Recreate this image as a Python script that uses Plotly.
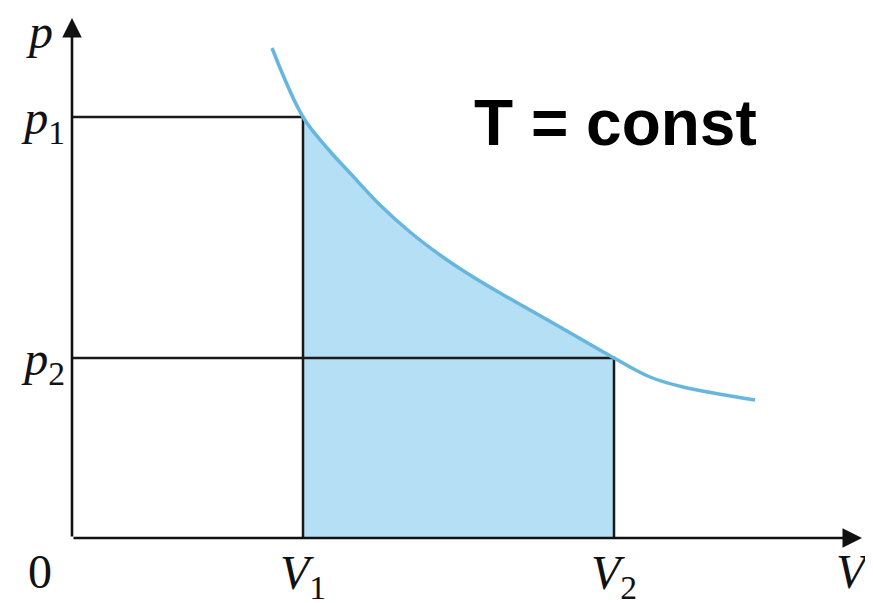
import plotly.graph_objects as go

# values (V and p in arbitrary units)
V1, V2 = 2.31, 5.42
p1, p2 = 4.21, 1.80
curve_V = [2.00, 2.31, 2.56, 2.78, 3.08, 3.38, 3.68, 3.98, 4.28, 4.58, 4.88, 5.42, 5.78, 6.11, 6.83]
curve_p = [4.90, 4.21, 3.89, 3.65, 3.33, 3.06, 2.83, 2.63, 2.45, 2.28, 2.11, 1.80, 1.61, 1.51, 1.38]
x_ticklabels = ["<i>V</i><sub>1</sub>", "<i>V</i><sub>2</sub>"]
y_ticklabels = ["<i>p</i><sub>1</sub>", "<i>p</i><sub>2</sub>"]
title_text = "T = const"

V_max, p_max = 7.90, 5.20

fill_V = [v for v in curve_V if V1 <= v <= V2]
fill_p = [p for v, p in zip(curve_V, curve_p) if V1 <= v <= V2]

serif = "Liberation Serif"
fig = go.Figure()

# shaded work area
fig.add_trace(go.Scatter(x=fill_V, y=fill_p, mode="lines", line=dict(width=0, shape="spline"),
                         fill="tozeroy", fillcolor="#b5dff5", hoverinfo="skip", showlegend=False))

# guide lines
fig.add_trace(go.Scatter(
    x=[0, V1, V1, None, 0, V2, V2],
    y=[p1, p1, 0, None, p2, p2, 0],
    mode="lines", line=dict(color="#1a1a1a", width=2.5), cliponaxis=False, showlegend=False))

# isotherm
fig.add_trace(go.Scatter(x=curve_V, y=curve_p, mode="lines",
                         line=dict(color="#66b6df", width=3.5, shape="spline"),
                         cliponaxis=False, showlegend=False))

# axes with arrows
for (hx, hy) in [(V_max, 0), (0, p_max)]:
    fig.add_annotation(x=hx, y=hy, ax=0, ay=0, xref="x", yref="y", axref="x", ayref="y",
                       text="", showarrow=True, arrowhead=2, arrowsize=1.5, arrowwidth=2.6,
                       arrowcolor="#111111", standoff=0, startstandoff=0)

lab_font = dict(family=serif, size=48, color="#111111")
common = dict(xref="paper", yref="paper", showarrow=False, xanchor="center", yanchor="middle")
fig.add_annotation(x=-0.040, y=-0.064, text="0", font=lab_font, **common)
fig.add_annotation(x=0.975, y=-0.064, text="<i>V</i>", font=lab_font, **common)
fig.add_annotation(x=-0.040, y=0.955, text="<i>p</i>", font=lab_font, **common)
fig.add_annotation(x=0.678, y=0.783, text=f"<b>{title_text}</b>",
                   font=dict(family="Liberation Sans", size=64, color="#000000"), **common)

# the page body adds an 8px offset, so the figure is sized to compensate
fig.update_layout(
    width=865, height=595, margin=dict(l=64, r=0, t=0, b=65),
    plot_bgcolor="white", paper_bgcolor="white",
    xaxis=dict(range=[0, 8.01], showgrid=False, zeroline=False, showline=False,
               tickvals=[V1, V2], ticktext=x_ticklabels, ticks="", automargin=False,
               tickfont=lab_font, ticklabelstandoff=2),
    yaxis=dict(range=[0, 5.30], showgrid=False, zeroline=False, showline=False,
               tickvals=[p1, p2], ticktext=y_ticklabels, ticks="", automargin=False,
               tickfont=lab_font, ticklabelstandoff=6),
)

fig.write_html("out.html")
